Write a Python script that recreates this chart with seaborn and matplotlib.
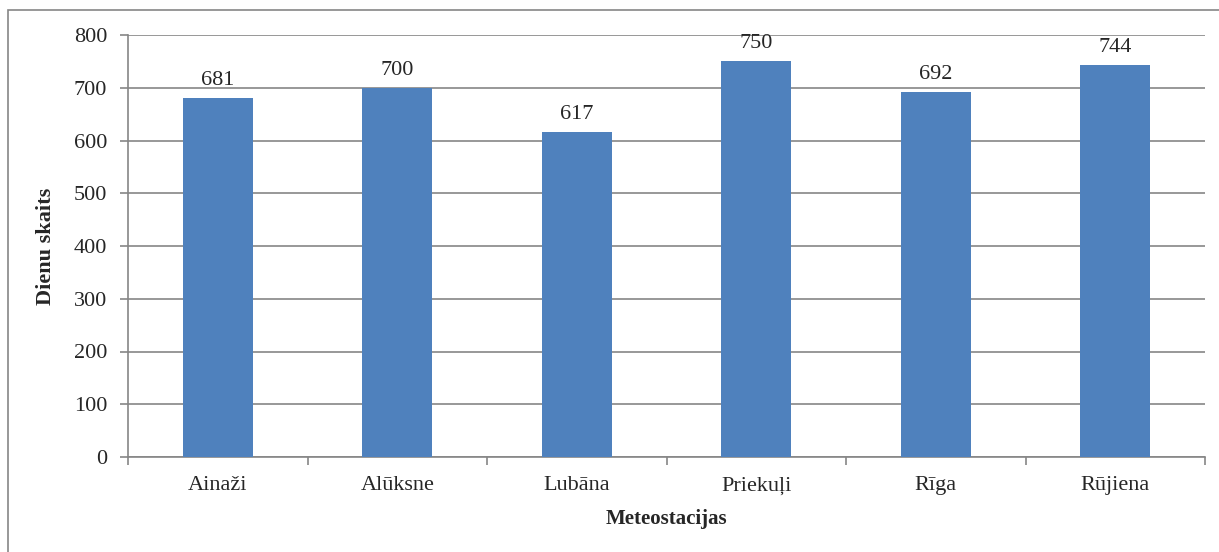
import matplotlib
matplotlib.use('Agg')
import numpy as np
import pandas as pd
import matplotlib.pyplot as plt
import seaborn as sns
from matplotlib.patches import Rectangle

# dati
stacijas = ['Ainaži', 'Alūksne', 'Lubāna', 'Priekuļi', 'Rīga', 'Rūjiena']
dienas = [681, 700, 617, 750, 692, 744]
y_ticks = [0, 100, 200, 300, 400, 500, 600, 700, 800]

sns.set_style('white')
plt.rcParams['font.family'] = ['Liberation Serif', 'DejaVu Serif']

df = pd.DataFrame({'stacija': stacijas, 'dienas': dienas})

fig = plt.figure(figsize=(12.19, 5.52), dpi=100)
ax = fig.add_axes([128 / 1219, 1 - 457 / 552, (1205 - 128) / 1219, (457 - 35) / 552])

sns.barplot(data=df, x='stacija', y='dienas', color='#4F81BD', saturation=1,
            width=0.39, linewidth=0, ax=ax, zorder=3)

ax.set_ylim(0, 800)
ax.set_xlim(-0.5, len(stacijas) - 0.5)
ax.set_yticks(y_ticks)
ax.yaxis.grid(True, color='#868686', linewidth=1.2, zorder=0)
ax.set_axisbelow(True)

for s in ['top', 'right']:
    ax.spines[s].set_visible(False)
for s in ['left', 'bottom']:
    ax.spines[s].set_color('#868686')
    ax.spines[s].set_linewidth(1.2)

# x ass iedaļas starp kategorijām
ax.set_xticks(np.arange(-0.5, len(stacijas)), minor=True)
ax.tick_params(axis='x', which='minor', bottom=True, length=6, color='#868686', width=1.2, direction='out')
ax.tick_params(axis='x', which='major', bottom=False, length=0, pad=14, labelsize=16)
ax.tick_params(axis='y', left=True, length=6, color='#868686', width=1.2, direction='out', labelsize=16, pad=9)

ax.set_xlabel('Meteostacijas', fontsize=15, fontweight='bold', labelpad=10)
ax.set_ylabel('Dienu skaits', fontsize=16, fontweight='bold', labelpad=13)

for i, v in enumerate(dienas):
    ax.text(i, v + 15, f'{v}', ha='center', va='bottom', fontsize=16)

# rāmis ap diagrammu
fig.patches.append(Rectangle((8 / 1219, -0.1), 1.2, (552 - 10) / 552 + 0.1,
                             transform=fig.transFigure, fill=False,
                             edgecolor='#868686', linewidth=1.2))

fig.savefig('out.png', dpi=100)
